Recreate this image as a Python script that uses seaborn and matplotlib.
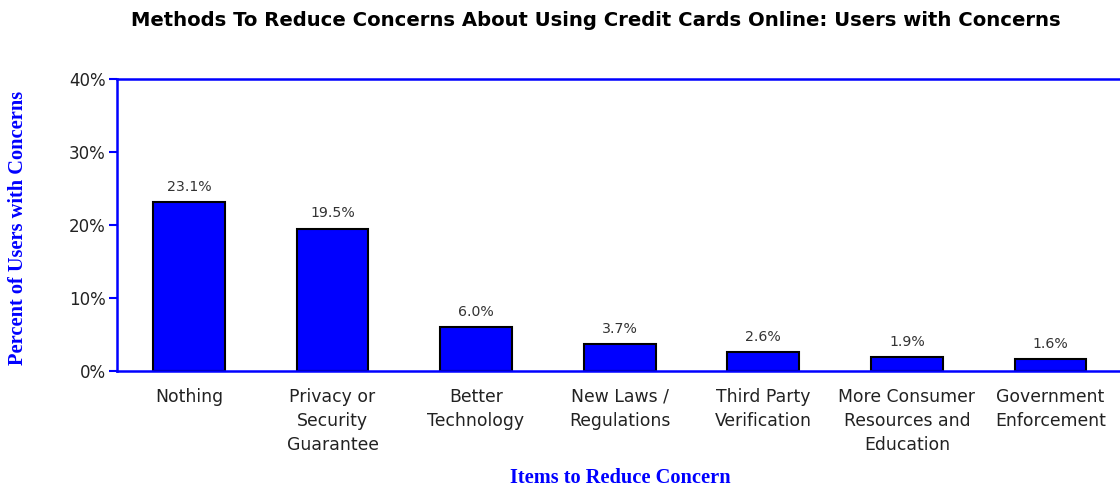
import matplotlib
matplotlib.use("Agg")
import matplotlib.pyplot as plt
import seaborn as sns
import pandas as pd

categories = ["Nothing", "Privacy or\nSecurity\nGuarantee", "Better\nTechnology",
              "New Laws /\nRegulations", "Third Party\nVerification",
              "More Consumer\nResources and\nEducation", "Government\nEnforcement"]
values = [23.1, 19.5, 6.0, 3.7, 2.6, 1.9, 1.6]
yticks = [0, 10, 20, 30, 40]
ytick_labels = ["0%", "10%", "20%", "30%", "40%"]

sns.set_theme(style="white")
plt.rcParams['font.family'] = ['DejaVu Sans']

df = pd.DataFrame({"cat": categories, "val": values})
fig = plt.figure(figsize=(11.2, 4.87), dpi=100)
ax = fig.add_axes([0.1045, 0.2382, 0.8975, 0.5996])
sns.barplot(data=df, x="cat", y="val", color="#0000FF", saturation=1,
            edgecolor="black", linewidth=1.5, width=0.5, ax=ax, zorder=2)
ax.set_xlim(-0.5, 6.5)
ax.set_ylim(0, 40)
ax.set_yticks(yticks)
ax.set_yticklabels(ytick_labels, fontsize=12, color="#222222")
ax.tick_params(axis="y", direction="out", length=6, width=1.5, color="#0000FF", left=True, pad=2)
ax.tick_params(axis="x", length=0, pad=12, labelsize=12.4, labelcolor="#222222")
for lbl in ax.get_xticklabels():
    lbl.set_linespacing(1.45)
for s in ["left", "top", "bottom"]:
    ax.spines[s].set_color("#0000FF")
    ax.spines[s].set_linewidth(1.8)
    ax.spines[s].set_zorder(5)
ax.spines["right"].set_visible(False)

for i, v in enumerate(values):
    ax.annotate(f"{v:.1f}%", (i, v), xytext=(0, 6), textcoords="offset points",
                ha="center", va="bottom", fontsize=10.2, color="#333333")

ax.set_xlabel("")
ax.set_ylabel("")
fig.text(620 / 1120, 1 - 478 / 487, "Items to Reduce Concern", fontfamily="Liberation Serif",
         fontweight="bold", fontsize=14.7, color="#0000FF", ha="center", va="center")
fig.text(18 / 1120, 1 - 228 / 487, "Percent of Users with Concerns", fontfamily="Liberation Serif",
         fontweight="bold", fontsize=14.7, color="#0000FF", ha="center", va="center", rotation=90)
fig.text(596 / 1120, 1 - 20 / 487, "Methods To Reduce Concerns About Using Credit Cards Online: Users with Concerns",
         ha="center", va="center", fontsize=14.1, fontweight="bold", color="black")

fig.savefig("out.png", dpi=100)
